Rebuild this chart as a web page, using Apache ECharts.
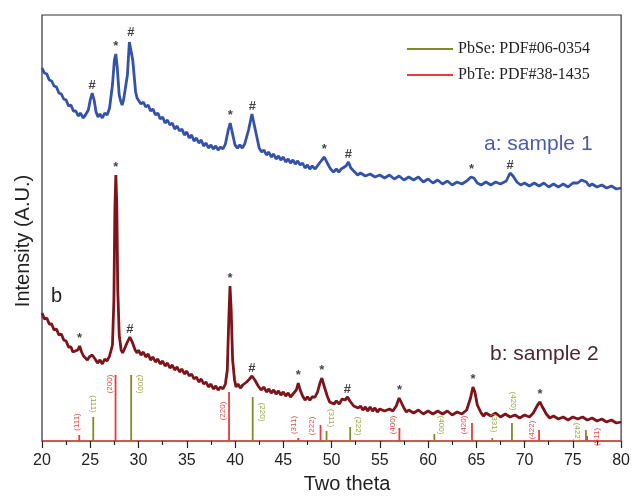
<!DOCTYPE html>
<html>
<head>
<meta charset="utf-8">
<script src="https://cdn.jsdelivr.net/npm/echarts@6/dist/echarts.min.js"></script>
<style>
html, body { margin: 0; padding: 0; background: #fff; }
#chart { width: 633px; height: 496px; }
</style>
</head>
<body>
<div id="chart"></div>
<script>
// sample a (upper, blue): [2theta, intensity a.u.]
var sampleA = [
  [20.0, 373], [20.25, 368], [20.5, 367], [20.75, 361], [21.0, 360], [21.25, 355], [21.5, 354], [21.75, 348],
  [22.0, 347], [22.25, 342], [22.5, 341], [22.75, 335], [23.0, 336], [23.25, 330], [23.5, 330], [23.75, 325],
  [24.0, 328], [24.25, 323], [24.5, 326], [24.8, 331], [25.0, 341], [25.2, 348], [25.4, 341], [25.6, 329],
  [25.8, 324], [26.0, 327], [26.25, 323], [26.5, 328], [26.75, 326], [27.0, 333], [27.3, 356], [27.5, 381],
  [27.65, 387], [27.8, 373], [28.0, 346], [28.15, 340], [28.3, 336], [28.45, 341], [28.6, 339], [28.85, 366],
  [29.05, 399], [29.2, 401], [29.4, 381], [29.7, 349], [29.85, 343], [30.0, 342], [30.25, 337], [30.5, 339],
  [30.75, 334], [31.0, 336], [31.25, 330], [31.5, 332], [31.75, 326], [32.0, 328], [32.25, 322], [32.5, 324],
  [32.75, 318], [33.0, 321], [33.25, 316], [33.5, 318], [33.75, 312], [34.0, 315], [34.25, 310], [34.5, 312],
  [34.75, 306], [35.0, 309], [35.25, 303], [35.5, 306], [35.75, 300], [36.0, 303], [36.25, 298], [36.5, 301],
  [36.75, 295], [37.0, 298], [37.25, 293], [37.5, 296], [37.75, 292], [38.0, 295], [38.25, 291], [38.5, 294],
  [38.75, 292], [39.0, 297], [39.3, 311], [39.5, 318], [39.7, 309], [40.0, 296], [40.25, 293], [40.5, 296],
  [40.75, 293], [41.0, 297], [41.4, 311], [41.75, 327], [41.95, 326], [42.15, 309], [42.5, 293], [42.75, 289],
  [43.0, 291], [43.25, 286], [43.5, 289], [43.75, 284], [44.0, 287], [44.25, 282], [44.5, 285], [44.75, 281],
  [45.0, 284], [45.25, 279], [45.5, 282], [45.75, 278], [46.0, 281], [46.25, 277], [46.5, 280], [46.75, 276],
  [47.0, 278], [47.25, 273], [47.5, 276], [47.75, 272], [48.0, 275], [48.3, 272], [48.6, 276], [49.0, 281],
  [49.25, 284], [49.5, 279], [49.9, 272], [50.2, 269], [50.5, 272], [50.75, 269], [51.0, 272], [51.5, 275],
  [51.75, 279], [52.0, 273], [52.4, 269], [52.7, 266], [53.0, 268], [53.5, 265], [54.0, 267], [54.5, 264],
  [55.0, 266], [55.5, 263], [56.0, 266], [56.5, 262], [57.0, 265], [57.5, 261], [58.0, 264], [58.5, 261],
  [59.0, 264], [59.5, 259], [60.0, 262], [60.5, 258], [61.0, 261], [61.5, 257], [62.0, 260], [62.5, 256],
  [63.0, 259], [63.5, 257], [64.0, 260], [64.45, 264], [64.75, 263], [65.1, 258], [65.5, 256], [66.0, 259],
  [66.5, 256], [67.0, 259], [67.5, 257], [68.1, 260], [68.5, 268], [68.8, 265], [69.2, 259], [69.6, 256],
  [70.0, 258], [70.5, 255], [71.0, 258], [71.5, 255], [72.0, 258], [72.5, 254], [73.0, 257], [73.5, 254],
  [74.0, 257], [74.5, 254], [75.0, 258], [75.5, 258], [75.9, 261], [76.4, 259], [76.7, 255], [77.0, 257],
  [77.5, 254], [78.0, 256], [78.5, 253], [79.0, 255], [79.5, 252], [80.0, 253]
];

// sample b (lower, dark red)
var sampleB = [
  [20.0, 128], [20.25, 122], [20.5, 123], [20.75, 117], [21.0, 117], [21.25, 111], [21.5, 112], [21.75, 106],
  [22.0, 107], [22.25, 101], [22.5, 100], [22.75, 94], [23.0, 94], [23.2, 89], [23.4, 90], [23.7, 91],
  [23.9, 95], [24.1, 89], [24.3, 85], [24.5, 83], [24.7, 81], [24.9, 84], [25.2, 86], [25.5, 82],
  [25.75, 78], [26.0, 81], [26.25, 77], [26.5, 82], [26.75, 80], [27.0, 85], [27.3, 96], [27.45, 141],
  [27.55, 231], [27.65, 266], [27.75, 236], [27.85, 151], [28.0, 106], [28.2, 91], [28.35, 88], [28.5, 91],
  [28.8, 98], [29.1, 104], [29.35, 99], [29.65, 91], [29.85, 88], [30.0, 91], [30.25, 86], [30.5, 89],
  [30.75, 84], [31.0, 87], [31.25, 81], [31.5, 84], [31.75, 79], [32.0, 82], [32.25, 77], [32.5, 80],
  [32.75, 75], [33.0, 78], [33.25, 73], [33.5, 76], [33.75, 71], [34.0, 74], [34.25, 69], [34.5, 72],
  [34.75, 67], [35.0, 70], [35.25, 65], [35.5, 67], [35.75, 62], [36.0, 64], [36.25, 59], [36.5, 62],
  [36.75, 57], [37.0, 59], [37.25, 54], [37.5, 57], [37.75, 52], [38.0, 55], [38.25, 51], [38.5, 54],
  [38.75, 52], [39.0, 57], [39.2, 71], [39.35, 121], [39.48, 155], [39.6, 131], [39.75, 81], [39.95, 61],
  [40.1, 54], [40.3, 57], [40.55, 53], [40.8, 56], [41.0, 55], [41.2, 59], [41.5, 62], [41.75, 65],
  [42.05, 61], [42.4, 55], [42.7, 51], [43.0, 54], [43.25, 49], [43.5, 52], [43.75, 48], [44.0, 51],
  [44.25, 47], [44.5, 50], [44.75, 46], [45.0, 49], [45.25, 45], [45.5, 48], [45.75, 44], [46.0, 47],
  [46.35, 51], [46.55, 58], [46.75, 51], [47.0, 45], [47.25, 41], [47.5, 44], [47.75, 41], [48.0, 44],
  [48.3, 44], [48.55, 49], [48.8, 58], [49.0, 63], [49.2, 56], [49.55, 45], [49.8, 39], [50.0, 41],
  [50.25, 37], [50.5, 40], [50.8, 37], [51.1, 42], [51.4, 41], [51.65, 44], [51.9, 40], [52.1, 39],
  [52.3, 35], [52.5, 37], [52.75, 33], [53.0, 35], [53.25, 31], [53.5, 34], [53.75, 30], [54.0, 34],
  [54.25, 30], [54.5, 33], [54.75, 29], [55.0, 32], [55.5, 30], [56.0, 32], [56.35, 30], [56.7, 35],
  [57.0, 43], [57.2, 42], [57.5, 33], [57.75, 29], [58.0, 31], [58.5, 28], [59.0, 31], [59.5, 27],
  [60.0, 30], [60.5, 27], [61.0, 30], [61.5, 27], [62.0, 30], [62.5, 26], [63.0, 29], [63.5, 27],
  [64.0, 31], [64.4, 43], [64.65, 54], [64.85, 49], [65.1, 36], [65.5, 28], [65.75, 25], [66.0, 28],
  [66.5, 25], [67.0, 28], [67.5, 24], [68.0, 27], [68.5, 24], [69.0, 26], [69.5, 23], [70.0, 26],
  [70.5, 24], [70.9, 28], [71.35, 36], [71.6, 39], [71.85, 34], [72.25, 27], [72.6, 23], [73.0, 25],
  [73.5, 22], [74.0, 24], [74.5, 21], [75.0, 24], [75.5, 22], [76.0, 24], [76.5, 21], [77.0, 23],
  [77.5, 20], [78.0, 22], [78.5, 19], [79.0, 21], [79.5, 18], [80.0, 19]
];

// peak markers: * = PbTe, # = PbSe
var markThetaA = [25.2, 27.65, 29.2, 39.5, 41.8, 49.25, 51.75, 64.5, 68.5];
var markA = ['#', '*', '#', '*', '#', '*', '#', '*', '#'];
var markThetaB = [23.9, 27.65, 29.1, 39.48, 41.75, 46.55, 49.0, 51.65, 57.05, 64.65, 71.6];
var markB = ['*', '*', '#', '*', '#', '*', '*', '#', '*', '*', '*'];

// reference patterns
var pbTeTheta = [23.86, 27.62, 39.38, 46.55, 48.86, 57.03, 64.55, 71.5, 76.48];
var pbTeHeight = [6, 66, 49, 3, 16, 13, 18, 11, 5];
var pbTeHkl = ['(111)', '(200)', '(220)', '(311)', '(222)', '(400)', '(420)', '(422)', '(511)'];
var pbSeTheta = [25.31, 29.24, 41.83, 49.48, 51.93, 60.65, 66.65, 68.69, 76.35];
var pbSeHeight = [24, 66, 44, 10, 14, 7, 3, 18, 11];
var pbSeHkl = ['(111)', '(200)', '(220)', '(311)', '(222)', '(400)', '(331)', '(420)', '(422)'];

// where the hkl tags sit: [dx px, px above axis]
var pbTeLabelPos = [[-2, 19], [-6, 57], [-6, 30], [-4, 16], [-9, 15], [-7, 16], [-8, 16], [-7, 11], [10, 4]];
var pbSeLabelPos = [[0, 37], [9, 57], [10, 29], [5, 23], [8, 15], [7, 16], [2, 18], [1, 40], [-9, 9]];

var xTicks = [20, 25, 30, 35, 40, 45, 50, 55, 60, 65, 70, 75, 80];

function topNear(pts, t) {
  var m = -Infinity;
  pts.forEach(function (p) { if (Math.abs(p[0] - t) <= 0.2 && p[1] > m) m = p[1]; });
  return m;
}
function markData(ts, chars, pts) {
  return ts.map(function (t, i) { return [t, topNear(pts, t), chars[i]]; });
}

function stickSeries(name, color, labColor, thetas, heights, hkl, pos, rot) {
  return {
    name: name,
    type: 'custom',
    itemStyle: { color: color },
    z: 3,
    data: thetas.map(function (t, i) { return [t, heights[i], i]; }),
    renderItem: function (params, api) {
      var i = api.value(2);
      var base = api.coord([api.value(0), 0]);
      var top = api.coord([api.value(0), api.value(1)]);
      return {
        type: 'group',
        children: [
          { type: 'line', shape: { x1: base[0], y1: base[1], x2: top[0], y2: top[1] },
            style: { stroke: color, lineWidth: 1.8 } },
          { type: 'text', x: base[0] + pos[i][0], y: base[1] - pos[i][1], rotation: rot,
            style: { text: hkl[i], fill: labColor, font: '8px "Liberation Sans", Arial, sans-serif',
              align: 'center', verticalAlign: 'middle' } }
        ]
      };
    }
  };
}

function markSeries(name, data) {
  return {
    name: name, type: 'scatter', data: data, z: 4,
    symbolSize: 1, itemStyle: { color: 'rgba(0,0,0,0)' },
    label: { show: true, position: 'top', distance: 1, color: '#111', fontSize: 13, fontWeight: 'bold',
      fontFamily: '"Liberation Sans", Arial, sans-serif', formatter: function (p) { return p.data[2]; } }
  };
}

var chart = echarts.init(document.getElementById('chart'));

var option = {
  animation: false,
  grid: { left: 42, right: 11, top: 15, bottom: 55, show: true, borderColor: '#333', borderWidth: 1.2 },
  legend: {
    left: 402, top: 36, orient: 'vertical', itemGap: 10,
    icon: 'rect', itemWidth: 46, itemHeight: 2,
    textStyle: { fontFamily: '"Liberation Serif", "Times New Roman", serif', fontSize: 16, color: '#222' },
    data: ['PbSe: PDF#06-0354', 'PbTe: PDF#38-1435']
  },
  xAxis: {
    type: 'value', min: 20, max: 80, interval: 5,
    axisLine: { lineStyle: { color: '#e8413f', width: 1.5 } },
    axisTick: { show: true, inside: false, length: 7, lineStyle: { color: '#222', width: 1.2 } },
    minorTick: { show: true, splitNumber: 2, length: 4, lineStyle: { color: '#222', width: 1.2 } },
    axisLabel: { margin: 12, color: '#222', fontSize: 16, fontFamily: '"Liberation Sans", Arial, sans-serif',
      formatter: function (v) { return xTicks.indexOf(v) >= 0 ? String(v) : ''; } },
    splitLine: { show: false }
  },
  yAxis: {
    type: 'value', min: 0, max: 426,
    axisLine: { show: false }, axisTick: { show: false }, axisLabel: { show: false },
    splitLine: { show: false }
  },
  series: [
    { name: 'a', type: 'line', data: sampleA, showSymbol: false, symbol: 'none',
      lineStyle: { color: '#3552aa', width: 2.8 }, z: 2 },
    { name: 'b', type: 'line', data: sampleB, showSymbol: false, symbol: 'none',
      lineStyle: { color: '#7e1419', width: 2.8 }, z: 2 },
    markSeries('markA', markData(markThetaA, markA, sampleA)),
    markSeries('markB', markData(markThetaB, markB, sampleB)),
    stickSeries('PbSe: PDF#06-0354', '#7f8b26', '#98a43a', pbSeTheta, pbSeHeight, pbSeHkl, pbSeLabelPos, -Math.PI / 2),
    stickSeries('PbTe: PDF#38-1435', '#ea3b3b', '#e84848', pbTeTheta, pbTeHeight, pbTeHkl, pbTeLabelPos, Math.PI / 2)
  ],
  graphic: [
    { type: 'text', left: 484, top: 134, style: { text: 'a: sample 1', fill: '#4d5ca8',
      font: '21px "Liberation Sans", Arial, sans-serif' } },
    { type: 'text', left: 490, top: 344, style: { text: 'b: sample 2', fill: '#4a2630',
      font: '21px "Liberation Sans", Arial, sans-serif' } },
    { type: 'text', left: 51, top: 286, style: { text: 'b', fill: '#222',
      font: '20px "Liberation Sans", Arial, sans-serif' } },
    { type: 'text', x: 347, y: 484, style: { text: 'Two theta', fill: '#222', align: 'center', verticalAlign: 'middle',
      font: '20px "Liberation Sans", Arial, sans-serif' } },
    { type: 'text', x: 23, y: 241, rotation: Math.PI / 2, style: { text: 'Intensity (A.U.)', fill: '#222',
      align: 'center', verticalAlign: 'middle', font: '20px "Liberation Sans", Arial, sans-serif' } }
  ]
};

chart.setOption(option);
window.onresize = function () { chart.resize(); };
</script>
</body>
</html>
